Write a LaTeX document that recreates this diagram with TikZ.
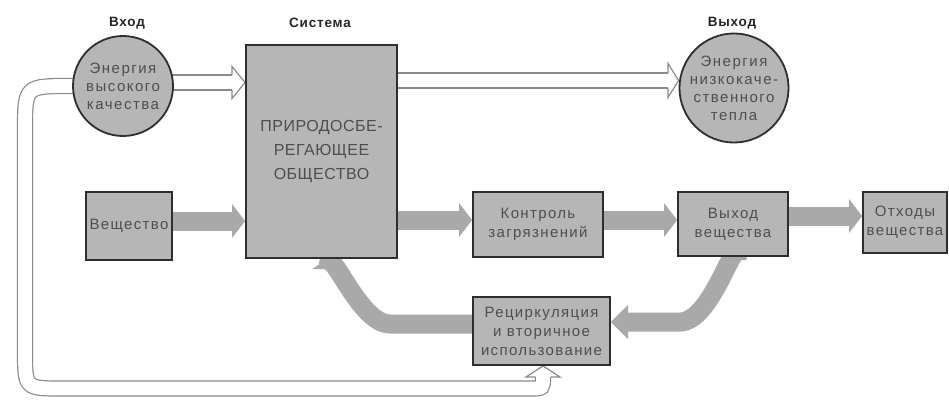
\documentclass[tikz,border=0pt]{standalone}
\usepackage{fontspec}
\setmainfont{Liberation Sans}
\usetikzlibrary{calc}
\pgfdeclarelayer{bg}
\pgfsetlayers{bg,main}
\definecolor{boxgray}{HTML}{B6B6B6}
\definecolor{flowgray}{HTML}{A9A9A9}
\definecolor{edgegray}{HTML}{2E2E2E}
\definecolor{txtgray}{HTML}{4E4E4E}
\definecolor{hollowgray}{HTML}{8A8A8A}
\begin{document}
\begin{tikzpicture}[x=1pt,y=-1pt,
  box/.style={rectangle, draw=edgegray, line width=1.8pt, fill=boxgray, text=txtgray, align=center, inner sep=0pt, font=\fontsize{15}{19}\selectfont\addfontfeature{LetterSpace=9}},
  blob/.style={circle, draw=edgegray, line width=1.8pt, fill=boxgray, text=txtgray, align=center, inner sep=0pt, minimum size=100pt, font=\fontsize{15}{18}\selectfont\addfontfeature{LetterSpace=10}},
  caption/.style={font=\bfseries\fontsize{13.5}{15}\selectfont\addfontfeature{LetterSpace=6}, text=black!85},
  flow/.style={flowgray, line width=19pt},
  flowtip/.style={fill=flowgray},
  hollowout/.style={hollowgray, line width=16.2pt},
  hollowin/.style={white, line width=13.8pt},
  hollowtip/.style={hollowgray, line width=1.2pt, line join=miter}]
\useasboundingbox (0,0) rectangle (949,400);

% captions
\node[caption] (lin) at (127,23) {Вход};
\node[caption] (lsys) at (320,23) {Система};
\node[caption] (lout) at (732,23) {Выход};

% nodes
\node[blob] (c1) at (123,86) {Энергия\\высокого\\качества};
\node[blob] (c2) at (734,88) {Энергия\\низкокаче-\\ственного\\тепла};
\node[box, minimum width=151pt, minimum height=213pt, font=\fontsize{16}{24}\selectfont\addfontfeature{LetterSpace=3}] (sys) at (321.5,151.5) {ПРИРОДОСБЕ-\\РЕГАЮЩЕЕ\\ОБЩЕСТВО};
\node[box, minimum width=86pt, minimum height=68pt] (vesh) at (129,226) {Вещество};
\node[box, minimum width=130pt, minimum height=65pt] (kontr) at (538,224.5) {Контроль\\загрязнений};
\node[box, minimum width=110pt, minimum height=64pt] (vyh) at (733,224) {Выход\\вещества};
\node[box, minimum width=84pt, minimum height=61pt] (otx) at (905,222.5) {Отходы\\вещества};
\node[box, minimum width=137pt, minimum height=68pt] (rec) at (541.5,331) {Рециркуляция\\и вторичное\\использование};

\begin{pgfonlayer}{bg}
\fill[white] (0,0) rectangle (949,400);

% hollow arrow: input energy -> system
\coordinate (h1a) at (c1.center |- 0,82.5);
\coordinate (h1b) at (232,82.5);
\coordinate (h1t) at (sys.west |- h1b);
\draw[hollowout] (h1a) -- (h1b);
\draw[hollowin] (h1a) -- (h1b);
\fill[white] ($(h1b)+(0,-16)$) -- (h1t) -- ($(h1b)+(0,16)$) -- cycle;
\draw[hollowtip] ($(h1b)+(0,-7.5)$) -- ($(h1b)+(0,-16)$) -- (h1t) -- ($(h1b)+(0,16)$) -- ($(h1b)+(0,7.5)$);

% hollow arrow: system -> low quality heat
\coordinate (h2a) at (sys.center |- 0,80.5);
\coordinate (h2b) at (668,80.5);
\coordinate (h2t) at (c2.west |- h2b);
\draw[hollowout] (h2a) -- (h2b);
\draw[hollowin] (h2a) -- (h2b);
\fill[white] ($(h2b)+(0,-17)$) -- (h2t) -- ($(h2b)+(0,17)$) -- cycle;
\draw[hollowtip] ($(h2b)+(0,-7.5)$) -- ($(h2b)+(0,-17)$) -- (h2t) -- ($(h2b)+(0,17)$) -- ($(h2b)+(0,7.5)$);

% hollow loop: input energy -> recycling
\coordinate (h3b) at (543,377);
\coordinate (h3t) at (rec.south -| h3b);
\def\looppath{(c1.center) -- (70,86) .. controls (25,86) .. (25,131) -- (25,351) .. controls (25,388.5) .. (62,388.5) -- (530,388.5) .. controls (543,388.5) .. (h3b)}
\draw[hollowout] \looppath;
\draw[hollowin] \looppath;
\fill[white] ($(h3b)+(-17,0)$) -- (h3t) -- ($(h3b)+(17,0)$) -- cycle;
\draw[hollowtip] ($(h3b)+(-7.5,0)$) -- ($(h3b)+(-17,0)$) -- (h3t) -- ($(h3b)+(17,0)$) -- ($(h3b)+(7.5,0)$);

% thick flows
\coordinate (f1a) at (vesh.center |- 0,221);
\coordinate (f1b) at (232,221);
\coordinate (f1t) at (sys.west |- f1b);
\draw[flow] (f1a) -- (f1b);
\fill[flowtip] ($(f1b)+(0,-17)$) -- (f1t) -- ($(f1b)+(0,17)$) -- cycle;

\coordinate (f2a) at (sys.center |- 0,220);
\coordinate (f2b) at (459,220);
\coordinate (f2t) at (kontr.west |- f2b);
\draw[flow] (f2a) -- (f2b);
\fill[flowtip] ($(f2b)+(0,-17)$) -- (f2t) -- ($(f2b)+(0,17)$) -- cycle;

\coordinate (f3a) at (kontr.center |- 0,220);
\coordinate (f3b) at (664,220);
\coordinate (f3t) at (vyh.west |- f3b);
\draw[flow] (f3a) -- (f3b);
\fill[flowtip] ($(f3b)+(0,-17)$) -- (f3t) -- ($(f3b)+(0,17)$) -- cycle;

\coordinate (f4a) at (vyh.center |- 0,216);
\coordinate (f4b) at (849,216);
\coordinate (f4t) at (otx.west |- f4b);
\draw[flow] (f4a) -- (f4b);
\fill[flowtip] ($(f4b)+(0,-17)$) -- (f4t) -- ($(f4b)+(0,17)$) -- cycle;

% output -> recycling
\coordinate (f5a) at (737,240);
\coordinate (f5b) at (628,322);
\coordinate (f5t) at (rec.east |- f5b);
\draw[flow] (f5a) -- (737,260) to[out=90,in=0] (680,322) -- (f5b);
\fill[flowtip] ($(f5b)+(0,-17)$) -- (f5t) -- ($(f5b)+(0,17)$) -- cycle;

% recycling -> system
\coordinate (f6a) at (rec.center |- 0,324);
\coordinate (f6b) at (328,269);
\coordinate (f6t) at (sys.south -| f6b);
\draw[flow] (f6a) -- (390,324) to[out=180,in=90] (f6b);
\fill[flowtip] ($(f6b)+(-16,0)$) -- (f6t) -- ($(f6b)+(16,0)$) -- cycle;
\end{pgfonlayer}
\end{tikzpicture}
\end{document}
